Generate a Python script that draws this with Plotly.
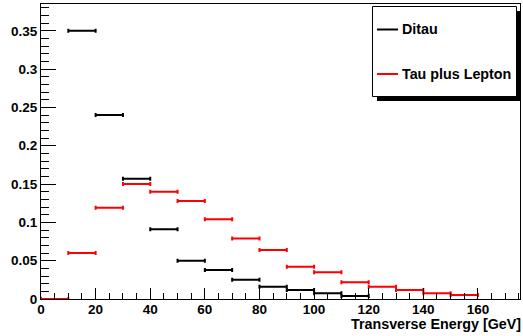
import plotly.graph_objects as go

bin_lo = [0, 10, 20, 30, 40, 50, 60, 70, 80, 90, 100, 110, 120, 130, 140, 150]
bin_width = 10

ditau = [None, 0.350, 0.240, 0.157, 0.091, 0.050, 0.038, 0.025, 0.016, 0.0117, 0.0074, 0.004,
         None, None, None, None]
tau_lep = [0.0, 0.060, 0.119, 0.150, 0.140, 0.128, 0.104, 0.079, 0.064, 0.042, 0.035, 0.0218,
           0.016, 0.0117, 0.0074, 0.0052]

x_ticks = [0, 20, 40, 60, 80, 100, 120, 140, 160]
y_ticks = [0, 0.05, 0.1, 0.15, 0.2, 0.25, 0.3, 0.35]
y_tick_labels = ["0", "0.05", "0.1", "0.15", "0.2", "0.25", "0.3", "0.35"]

series = [("Ditau", ditau, "black"), ("Tau plus Lepton", tau_lep, "red")]

W, H = 523, 336
ml, mr, mt, mb = 41, 3, 4, 37
pw, ph = W - ml - mr, H - mt - mb

def px(x):
    return (x - ml) / pw

def py(y):
    return (H - mb - y) / ph

fig = go.Figure()
for name, vals, col in series:
    xs = [lo + bin_width / 2 for lo, v in zip(bin_lo, vals) if v is not None]
    ys = [v for v in vals if v is not None]
    fig.add_trace(go.Scatter(
        x=xs, y=ys, mode="markers", name=name,
        marker=dict(size=1, color=col),
        error_x=dict(type="constant", value=bin_width / 2, color=col, thickness=2, width=2),
        showlegend=False, hoverinfo="skip",
    ))

font = dict(family="Liberation Sans, Arial, sans-serif", size=13.5, color="black")
font_big = dict(family="Liberation Sans, Arial, sans-serif", size=14.3, color="black")

fig.update_layout(
    width=W, height=H,
    margin=dict(l=ml, r=mr, t=mt, b=mb, autoexpand=False),
    plot_bgcolor="white", paper_bgcolor="white",
    font=font,
    xaxis=dict(range=[0, 175.4], showgrid=False, zeroline=False,
               showline=True, linecolor="black", linewidth=1, mirror=True,
               ticks="inside", ticklen=11, tickwidth=1, tickcolor="black",
               tickmode="array", tickvals=x_ticks, ticklabelstandoff=-2,
               ticktext=[f"<b>{v}</b>" for v in x_ticks], tickfont=font,
               minor=dict(ticks="inside", ticklen=6, dtick=5, tickcolor="black", showgrid=False)),
    yaxis=dict(range=[0, 0.385], showgrid=False, zeroline=False,
               showline=True, linecolor="black", linewidth=1, mirror=True,
               ticks="inside", ticklen=15, tickwidth=1, tickcolor="black",
               tickmode="array", tickvals=y_ticks,
               ticktext=[f"<b>{t}</b>" for t in y_tick_labels], tickfont=font,
               minor=dict(ticks="inside", ticklen=8, dtick=0.01, tickcolor="black", showgrid=False)),
)

# x-axis title, right aligned at end of axis
fig.add_annotation(text="<b>Transverse Energy [GeV]</b>", xref="paper", yref="paper",
                   x=px(522), y=py(324), xanchor="right", yanchor="middle",
                   showarrow=False, font=font_big, borderpad=0)

# legend box with shadow
fig.add_shape(type="rect", xref="paper", yref="paper",
              x0=px(377), x1=px(521), y0=py(101), y1=py(11),
              fillcolor="black", line=dict(width=0), layer="above")
fig.add_shape(type="rect", xref="paper", yref="paper",
              x0=px(372.5), x1=px(516.5), y0=py(96.5), y1=py(6.5),
              fillcolor="white", line=dict(color="black", width=1), layer="above")
for (name, _, col), yy in zip(series, [29.5, 74]):
    fig.add_shape(type="line", xref="paper", yref="paper",
                  x0=px(377), x1=px(398), y0=py(yy), y1=py(yy),
                  line=dict(color=col, width=2), layer="above")
    fig.add_annotation(text=f"<b>{name}</b>", xref="paper", yref="paper",
                       x=px(399.5), y=py(yy), xanchor="left", yanchor="middle",
                       showarrow=False, font=font_big)

fig.write_html("out.html", config={"displayModeBar": False},
               post_script="document.body.style.margin='0px';document.body.style.overflow='hidden';")
